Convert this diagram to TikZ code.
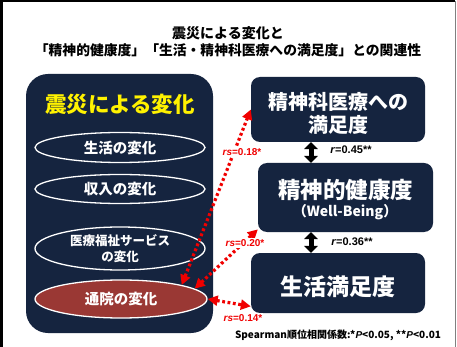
\documentclass[tikz,border=0pt]{standalone}
\usepackage{fontspec}
\setmainfont{Liberation Sans}
\newfontfamily\jp{Noto Sans CJK JP}
\usetikzlibrary{arrows.meta,shapes.geometric}
\definecolor{navy}{HTML}{15243F}
\definecolor{brick}{HTML}{9A3834}
\definecolor{rline}{HTML}{F00000}
\begin{document}
\begin{tikzpicture}[x=1pt,y=-1pt,
  panel/.style={fill=navy,draw=none,rounded corners=9pt,inner sep=0pt},
  oval/.style={ellipse,draw=white,line width=1.3pt,fill=navy,inner sep=0pt,text=white,font=\jp\bfseries\fontsize{14.5}{16}\selectfont},
  boxtext/.style={text=white,inner sep=0pt,align=center},
  corr/.style={draw=rline,line width=3.2pt,dash pattern=on 2.8pt off 2.6pt,{Triangle[length=10pt,width=10pt]}-{Triangle[length=10pt,width=10pt]}},
  bigarrow/.style={draw=black,line width=5pt,{Triangle[length=7pt,width=13.5pt]}-{Triangle[length=7pt,width=13.5pt]}},
  rlab/.style={font=\bfseries\fontsize{11}{12}\selectfont,inner sep=1pt},
  rslab/.style={text=rline,fill=white,font=\bfseries\fontsize{10}{12}\selectfont,inner sep=1pt}
]
\useasboundingbox (0,0) rectangle (457,347);
\fill[white] (0,0) rectangle (457,347);
\draw[line width=2.5pt] (1.25,347) -- (1.25,1.25) -- (455,1.25);
\draw[gray,line width=1pt] (455.5,1.25) -- (455.5,347);

\node[font=\jp\bfseries\fontsize{14}{16}\selectfont] (t1) at (228,33) {震災による変化と};
\node[font=\jp\bfseries\fontsize{13.8}{16}\selectfont] (t2) at (228,50) {「精神的健康度」「生活・精神科医療への満足度」との関連性};

\node[panel,rounded corners=22pt,minimum width=187pt,minimum height=259pt] (big) at (119.5,203.5) {};
\node[text=yellow,font=\jp\bfseries\fontsize{21.5}{24}\selectfont] (bigtitle) at (120,104) {震災による変化};

\node[oval,minimum width=170pt,minimum height=30pt] (e1) at (120,147.5) {生活の変化};
\node[oval,minimum width=170pt,minimum height=29pt] (e2) at (120,189) {収入の変化};
\node[oval,minimum width=170pt,minimum height=43pt,align=center,font=\jp\bfseries\fontsize{12.5}{16}\selectfont] (e3) at (120,248.5) {医療福祉サービス\\の変化};
\node[oval,fill=brick,minimum width=172pt,minimum height=38pt] (e4) at (121,299) {通院の変化};

\node[panel,minimum width=174pt,minimum height=65pt] (A) at (338,109.5) {};
\node[boxtext,font=\jp\bfseries\fontsize{20}{23}\selectfont] (At) at (338,113.5) {精神科医療への\\満足度};
\node[panel,minimum width=175pt,minimum height=69pt] (B) at (345.5,197.5) {};
\node[boxtext,font=\jp\bfseries\fontsize{22.5}{25}\selectfont] (Bt1) at (345.5,190) {精神的健康度};
\node[boxtext,font=\jp\bfseries\fontsize{14}{16}\selectfont] (Bt2) at (345,212) {（Well-Being）};
\node[panel,minimum width=174pt,minimum height=60pt] (C) at (338,283) {};
\node[boxtext,font=\jp\bfseries\fontsize{23}{26}\selectfont] (Ct) at (338,287) {生活満足度};

\draw[bigarrow] ([xshift=-27pt]A.south) -- ([xshift=-27pt]A.south |- B.north);
\draw[bigarrow] ([xshift=-27pt]C.north |- B.south) -- ([xshift=-27pt]C.north);
\node[rlab] (r1) at (351,150) {\textit{r}=0.45**};
\node[rlab] (r2) at (352,242) {\textit{r}=0.36**};

\draw[corr] (e4.13) -- (A.west);
\draw[corr] (e4.8) -- (B.200);
\draw[corr] (e4.east) -- (C.195);
\node[rslab] (s1) at (242,152) {\textit{rs}=0.18*};
\node[rslab] (s2) at (245,243) {\textit{rs}=0.20*};
\node[rslab] (s3) at (243,318) {\textit{rs}=0.14*};

\node[font=\jp\bfseries\fontsize{10}{12}\selectfont,inner sep=0pt] (foot) at (338,335) {Spearman順位相関係数:*{\rmfamily\itshape P}<0.05, **{\rmfamily\itshape P}<0.01};
\end{tikzpicture}
\end{document}
